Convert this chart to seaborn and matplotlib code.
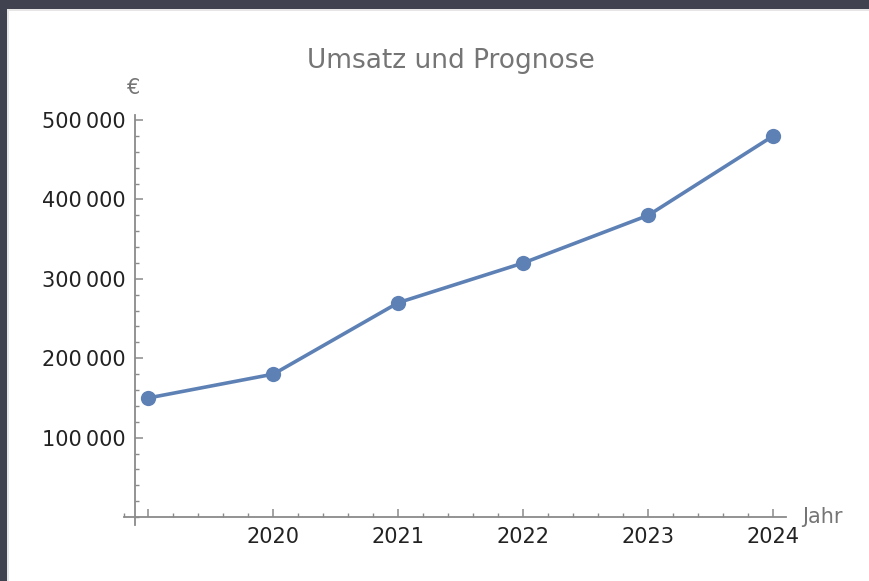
import numpy as np
import pandas as pd
import matplotlib
matplotlib.use("Agg")
import matplotlib.pyplot as plt
from matplotlib.patches import Rectangle
from matplotlib.ticker import FixedLocator, FuncFormatter
import seaborn as sns

# Revenue per year (EUR), actuals and forecast
years = [2019, 2020, 2021, 2022, 2023, 2024]
umsatz = [150000, 180000, 270000, 320000, 380000, 480000]
x_tick_labels = ["", "2020", "2021", "2022", "2023", "2024"]
y_ticks = [100000, 200000, 300000, 400000, 500000]

sns.set_theme(style="white")
plt.rcParams["font.family"] = ["DejaVu Sans"]

W, H = 869, 581
fig = plt.figure(figsize=(W / 100, H / 100), dpi=100)
fig.patch.set_facecolor("white")

# window frame: dark strip at top and left, thin light edge
dark = "#40424f"
fig.patches.append(Rectangle((0, 1 - 9 / H), 1, 9 / H, transform=fig.transFigure,
                             facecolor=dark, edgecolor="none", zorder=0))
fig.patches.append(Rectangle((0, 0), 7 / W, 1, transform=fig.transFigure,
                             facecolor=dark, edgecolor="none", zorder=0))
fig.patches.append(Rectangle((7 / W, 0), 2 / W, 1 - 9 / H, transform=fig.transFigure,
                             facecolor="#e6e6e6", edgecolor="none", zorder=0))
fig.patches.append(Rectangle((7 / W, 1 - 11 / H), 1, 2 / H, transform=fig.transFigure,
                             facecolor="#e6e6e6", edgecolor="none", zorder=0))

# axes placement in pixels
x0, x1 = 2018.8, 2024.1
y0, y1 = -10000, 506000
px_left, px_right = 123.5, 785.8
px_top, px_bottom = 115.2, 525.0
ax = fig.add_axes([px_left / W, 1 - px_bottom / H,
                   (px_right - px_left) / W, (px_bottom - px_top) / H])
ax.set_facecolor("none")

df = pd.DataFrame({"Jahr": years, "Umsatz": umsatz})
line_color = "#5e81b5"
sns.lineplot(data=df, x="Jahr", y="Umsatz", ax=ax, color=line_color,
             linewidth=2.6, marker="o", markersize=11, markeredgewidth=0,
             clip_on=False)

ax.set_xlim(x0, x1)
ax.set_ylim(y0, y1)

axis_color = "#8a8a8a"
for side in ("top", "right"):
    ax.spines[side].set_visible(False)
ax.spines["left"].set_position(("data", 2018.896))
ax.spines["bottom"].set_position(("data", 0))
for side in ("left", "bottom"):
    ax.spines[side].set_color(axis_color)
    ax.spines[side].set_linewidth(1.3)

ax.xaxis.set_major_locator(FixedLocator(years))
ax.set_xticklabels(x_tick_labels)
ax.xaxis.set_minor_locator(FixedLocator(np.round(np.arange(2018.8, 2024.11, 0.2), 2)))
ax.yaxis.set_major_locator(FixedLocator(y_ticks))
ax.yaxis.set_major_formatter(FuncFormatter(lambda v, p: f"{int(v):,}".replace(",", "\u2009")))
ax.yaxis.set_minor_locator(FixedLocator(np.arange(0, 500001, 20000)))

ax.tick_params(axis="both", which="major", direction="in", length=5.5, width=1.1,
               color=axis_color, labelsize=15, labelcolor="#222222")
ax.tick_params(axis="both", which="minor", direction="in", length=3, width=1.0,
               color=axis_color)
ax.tick_params(axis="x", which="major", pad=7)
ax.tick_params(axis="y", which="major", pad=7)
ax.tick_params(axis="x", which="both", bottom=True, top=False)
ax.tick_params(axis="y", which="both", left=True, right=False)
ax.set_xlabel("")
ax.set_ylabel("")
ax.grid(False)

label_color = "#757575"
fig.text(451 / W, 1 - 61 / H, "Umsatz und Prognose", ha="center", va="center",
         fontsize=19, color=label_color)
fig.text(134 / W, 1 - 88 / H, "€", ha="center", va="center",
         fontsize=15, color=label_color)
fig.text(802 / W, 1 - 517 / H, "Jahr", ha="left", va="center",
         fontsize=15, color=label_color)

fig.savefig("out.png", dpi=100)
